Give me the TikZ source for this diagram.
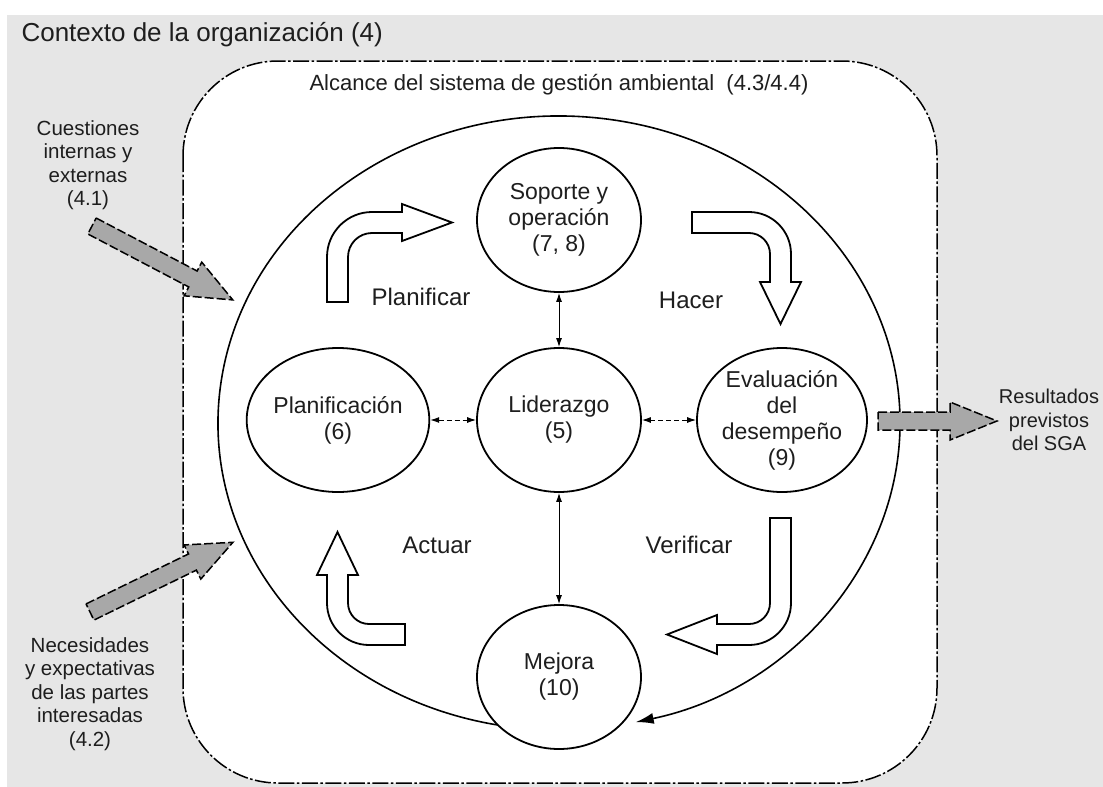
\documentclass[tikz,border=0pt]{standalone}
\usepackage{fontspec}
\setmainfont{Liberation Sans}
\usetikzlibrary{shapes.geometric,arrows.meta}

\definecolor{ctxgray}{RGB}{230,230,230}
\definecolor{inputgray}{RGB}{168,168,168}
\definecolor{inkgray}{RGB}{30,30,30}

\tikzset{
  clause/.style={ellipse, draw=black, line width=1.8pt, fill=white,
    minimum width=164pt, minimum height=144pt, inner sep=0pt, align=center,
    font=\fontsize{23}{26}\selectfont, text=inkgray},
  pdca/.style={font=\fontsize{24}{28}\selectfont, text=inkgray},
  sidetext/.style={align=center, font=\fontsize{20.5}{23.5}\selectfont, text=inkgray},
  bentarrow/.style={draw=black, line width=1.8pt, fill=white, line join=miter},
  grayarrow/.style={draw=black, line width=1.5pt, fill=inputgray,
    dash pattern=on 9pt off 3pt},
  link/.style={line width=1pt, {Latex[length=9pt,width=6pt]}-{Latex[length=9pt,width=6pt]}},
}

\begin{document}
\begin{tikzpicture}[x=1pt, y=-1pt]

  \useasboundingbox (0,0) rectangle (1103,787);
  \fill[ctxgray] (7,15) rectangle (1103,787);

  \node[anchor=west, font=\fontsize{26}{30}\selectfont, text=inkgray] (ctx) at (18,35)
    {Contexto de la organización (4)};

  % scope of the EMS
  \draw[line width=1.5pt, fill=white, rounded corners=95pt,
    dash pattern=on 16pt off 2.5pt on 2.5pt off 2.5pt] (183,61) rectangle (937,783);
  \node[font=\fontsize{22}{26}\selectfont, text=inkgray] (alcance) at (559,85)
    {Alcance del sistema de gestión ambiental \ (4.3/4.4)};

  % PDCA cycle
  \coordinate (pdcac) at (559,423);
  \draw[line width=1.6pt, -{Latex[length=18pt,width=11pt]}]
    (pdcac) ++(99:341 and 307) arc[start angle=99, end angle=437, x radius=341, y radius=307];

  \node[clause] (soporte) at (559,220) {Soporte y\\operación\\(7, 8)};
  \node[clause] (lider) at (559,420) {Liderazgo\\(5)};
  \node[clause] (planif) at (338,420) {Planificación\\(6)};
  \node[clause] (evalua) at (782,420) {Evaluación\\del\\desempeño\\(9)};
  \node[clause] (mejora) at (559,677) {Mejora\\(10)};

  \draw[link] (soporte) -- (lider);
  \draw[link] (lider) -- (mejora);
  \draw[link, dash pattern=on 5pt off 3pt] (planif) -- (lider);
  \draw[link, dash pattern=on 5pt off 3pt] (lider) -- (evalua);

  % bent arrows
  \draw[bentarrow] (327,302) -- (327,257) arc[start angle=180, end angle=270, radius=45]
    -- (402,212) -- (402,204) -- (452,222.5) -- (402,241) -- (402,233) -- (372,233)
    arc[start angle=270, end angle=180, radius=24] -- (348,302) -- cycle;
  \draw[bentarrow] (692,212) -- (749,212) arc[start angle=270, end angle=360, radius=42]
    -- (791,282) -- (801,282) -- (780.5,324) -- (760,282) -- (770,282) -- (770,254)
    arc[start angle=0, end angle=-90, radius=21] -- (692,233) -- cycle;
  \draw[bentarrow] (770,518) -- (791,518) -- (791,603) arc[start angle=0, end angle=90, radius=42]
    -- (717,645) -- (717,654) -- (667,634.5) -- (717,615) -- (717,624) -- (749,624)
    arc[start angle=90, end angle=0, radius=21] -- cycle;
  \draw[bentarrow] (405,645) -- (369,645) arc[start angle=90, end angle=180, radius=42]
    -- (327,575) -- (317,575) -- (337.5,532) -- (358,575) -- (348,575) -- (348,603)
    arc[start angle=180, end angle=90, radius=21] -- (405,624) -- cycle;

  \node[pdca] (planificar) at (421,297) {Planificar};
  \node[pdca] (hacer) at (691,300) {Hacer};
  \node[pdca] (verificar) at (689,545) {Verificar};
  \node[pdca] (actuar) at (437,545) {Actuar};

  % inputs and outputs
  \begin{scope}[shift={(92,226)}, rotate=-27.7]
    \draw[grayarrow] (0,-9) -- (114,-9) -- (114,-19) -- (159,0) -- (114,19) -- (114,9) -- (0,9) -- cycle;
  \end{scope}
  \begin{scope}[shift={(90,612)}, rotate=26]
    \draw[grayarrow] (0,-9) -- (114,-9) -- (114,-19) -- (159,0) -- (114,19) -- (114,9) -- (0,9) -- cycle;
  \end{scope}
  \draw[grayarrow] (878,412) -- (950,412) -- (950,402) -- (997,421) -- (950,440)
    -- (950,430) -- (878,430) -- cycle;

  \node[sidetext] (cuestiones) at (88,165) {Cuestiones\\internas y\\externas\\(4.1)};
  \node[sidetext] (necesidades) at (90,694)
    {Necesidades\\y expectativas\\de las partes\\interesadas\\(4.2)};
  \node[sidetext, font=\fontsize{20}{23.5}\selectfont] (resultados) at (1049,420)
    {Resultados\\previstos\\del SGA};

\end{tikzpicture}
\end{document}
